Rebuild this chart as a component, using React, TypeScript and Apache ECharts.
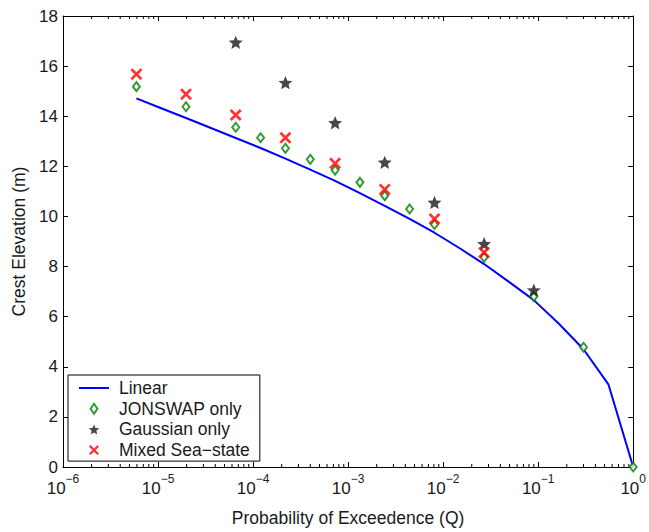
import React, { useEffect, useRef } from 'react';
import * as echarts from 'echarts';

// ---- data ----
const Q_LINEAR = [1, 0.548, 0.3, 0.1643, 0.09, 0.0493, 0.027, 0.0148, 0.00811, 0.00444, 0.00243, 0.001332, 0.00073, 0.0004, 0.000219, 0.00012, 0.0000657, 0.000036, 0.0000197, 0.0000108, 0.00000592];
const H_LINEAR = [0, 3.3, 4.7, 5.73, 6.66, 7.39, 8.1, 8.74, 9.35, 9.9, 10.42, 10.93, 11.42, 11.87, 12.31, 12.73, 13.13, 13.53, 13.93, 14.32, 14.71];

const Q_JONSWAP = [0.00000592, 0.0000197, 0.0000657, 0.00012, 0.000219, 0.0004, 0.00073, 0.001332, 0.00243, 0.00444, 0.00811, 0.027, 0.09, 0.3, 1];
const H_JONSWAP = [15.18, 14.38, 13.56, 13.14, 12.72, 12.28, 11.85, 11.36, 10.83, 10.3, 9.68, 8.37, 6.8, 4.78, 0];

const Q_GAUSSIAN = [0.0000657, 0.000219, 0.00073, 0.00243, 0.00811, 0.027, 0.09];
const H_GAUSSIAN = [16.95, 15.34, 13.74, 12.16, 10.56, 8.91, 7.06];

const Q_MIXED = [0.00000592, 0.0000197, 0.0000657, 0.000219, 0.00073, 0.00243, 0.00811, 0.027];
const H_MIXED = [15.68, 14.88, 14.05, 13.14, 12.12, 11.08, 9.9, 8.56];

const SERIES_NAMES = ['Linear', 'JONSWAP only', 'Gaussian only', 'Mixed Sea\u2212state'];
const X_TITLE = 'Probability of Exceedence (Q)';
const Y_TITLE = 'Crest Elevation (m)';
const X_MIN = 1e-6;
const X_MAX = 1;
const Y_MIN = 0;
const Y_MAX = 18;
const Y_STEP = 2;
const DECADE_EXPONENTS = [-6, -5, -4, -3, -2, -1];
const MINOR_MULTIPLIERS = [2, 3, 4, 5, 6, 7, 8, 9];

const FONT = "'Liberation Sans', Arial, Helvetica, sans-serif";
const TEXT_COLOR = '#1a1a1a';
const BLUE = '#0000ff';
const GREEN = '#008000';
const RED = '#ff0000';
const STAR_COLOR = '#1a1a1a';

const STAR_PATH =
  'path://M10,0 L12.645,6.359 L19.511,6.91 L14.28,11.39 L15.878,18.09 L10,14.5 L4.122,18.09 L5.72,11.39 L0.489,6.91 L7.355,6.359 Z';
const X_PATH =
  'path://M0,1.6 L1.6,0 L5,3.4 L8.4,0 L10,1.6 L6.6,5 L10,8.4 L8.4,10 L5,6.6 L1.6,10 L0,8.4 L3.4,5 Z';
const DIAMOND_PATH = 'path://M3,0 L6,4.4 L3,8.8 L0,4.4 Z';
const LINE_ICON_PATH = 'path://M0,0 L30,0 L30,2 L0,2 Z';

const zip = (a: number[], b: number[]) => a.map((v, i) => [v, b[i]]);

export default function App() {
  const ref = useRef<HTMLDivElement>(null);

  useEffect(() => {
    if (!ref.current) return;
    const chart = echarts.init(ref.current, undefined, { renderer: 'svg' });

    const minorTicks: number[][] = [];
    DECADE_EXPONENTS.forEach((e) => {
      MINOR_MULTIPLIERS.forEach((m) => minorTicks.push([m * Math.pow(10, e), Y_MIN]));
    });

    const expLabel = (v: number) => {
      const e = Math.round(Math.log10(v));
      return `{b|10}{s|${e < 0 ? '\u2212' : ''}${Math.abs(e)}}`;
    };

    const axisLine = { show: true, onZero: false, lineStyle: { color: '#000', width: 1 } };
    const tick = { show: true, inside: true, length: 5, lineStyle: { color: '#000' } };

    chart.setOption({
      animation: false,
      backgroundColor: '#fff',
      grid: { left: 63, right: 14, top: 16, bottom: 65, containLabel: false },
      legend: {
        orient: 'vertical',
        left: 68,
        top: 375,
        data: [
          { name: SERIES_NAMES[0], icon: LINE_ICON_PATH, itemStyle: { color: BLUE } },
          { name: SERIES_NAMES[1], icon: DIAMOND_PATH },
          { name: SERIES_NAMES[2], icon: STAR_PATH },
          { name: SERIES_NAMES[3], icon: X_PATH },
        ],
        itemWidth: 30,
        itemHeight: 10,
        itemGap: 2.7,
        padding: [4, 10, 2, 11],
        borderColor: '#000',
        borderWidth: 1,
        backgroundColor: '#fff',
        selectedMode: false,
        textStyle: { fontFamily: FONT, fontSize: 17.5, color: TEXT_COLOR, lineHeight: 18, padding: [0, 0, 0, 5] },
      },
      xAxis: [
        {
          type: 'log',
          logBase: 10,
          min: X_MIN,
          max: X_MAX,
          splitNumber: 6,
          position: 'bottom',
          name: X_TITLE,
          nameLocation: 'middle',
          nameGap: 42,
          nameTextStyle: { fontFamily: FONT, fontSize: 17.5, color: TEXT_COLOR },
          axisLine,
          axisTick: tick,
          splitLine: { show: false },
          axisLabel: {
            margin: 6,
            showMinLabel: true,
            showMaxLabel: true,
            formatter: expLabel,
            rich: {
              b: { fontFamily: FONT, fontSize: 17, lineHeight: 24, verticalAlign: 'bottom', color: TEXT_COLOR },
              s: { fontFamily: FONT, fontSize: 12, lineHeight: 12, verticalAlign: 'top', color: TEXT_COLOR },
            },
          },
        },
        {
          type: 'log',
          logBase: 10,
          min: X_MIN,
          max: X_MAX,
          splitNumber: 6,
          position: 'top',
          axisLine,
          axisTick: tick,
          axisLabel: { show: false },
          splitLine: { show: false },
        },
      ],
      yAxis: [
        {
          type: 'value',
          min: Y_MIN,
          max: Y_MAX,
          interval: Y_STEP,
          position: 'left',
          name: Y_TITLE,
          nameLocation: 'middle',
          nameGap: 35,
          nameTextStyle: { fontFamily: FONT, fontSize: 17.5, color: TEXT_COLOR },
          axisLine,
          axisTick: tick,
          splitLine: { show: false },
          axisLabel: { margin: 5, fontFamily: FONT, fontSize: 17, color: TEXT_COLOR },
        },
        {
          type: 'value',
          min: Y_MIN,
          max: Y_MAX,
          interval: Y_STEP,
          position: 'right',
          axisLine,
          axisTick: tick,
          splitLine: { show: false },
          axisLabel: { show: false },
        },
      ],
      series: [
        {
          name: SERIES_NAMES[0],
          type: 'line',
          data: zip(Q_LINEAR, H_LINEAR),
          showSymbol: false,
          symbol: 'none',
          lineStyle: { color: BLUE, width: 2 },
          itemStyle: { color: BLUE },
          z: 2,
        },
        {
          name: SERIES_NAMES[1],
          type: 'scatter',
          data: zip(Q_JONSWAP, H_JONSWAP),
          symbol: 'diamond',
          symbolSize: [7, 9],
          clip: false,
          itemStyle: { color: '#ffffff', borderColor: GREEN, borderWidth: 2 },
          z: 3,
        },
        {
          name: SERIES_NAMES[2],
          type: 'scatter',
          data: zip(Q_GAUSSIAN, H_GAUSSIAN),
          symbol: STAR_PATH,
          symbolSize: [14, 13.3],
          clip: false,
          itemStyle: { color: STAR_COLOR },
          z: 4,
        },
        {
          name: SERIES_NAMES[3],
          type: 'scatter',
          data: zip(Q_MIXED, H_MIXED),
          symbol: X_PATH,
          symbolSize: [12, 12],
          clip: false,
          itemStyle: { color: RED },
          z: 5,
        },
        {
          name: 'minorTicks',
          type: 'custom',
          silent: true,
          clip: false,
          data: minorTicks,
          renderItem: (params: any, api: any) => {
            const v = api.value(0);
            const b = api.coord([v, Y_MIN]);
            const t = api.coord([v, Y_MAX]);
            const style = { stroke: '#000', lineWidth: 1 };
            return {
              type: 'group',
              children: [
                { type: 'line', shape: { x1: b[0], y1: b[1], x2: b[0], y2: b[1] - 3 }, style },
                { type: 'line', shape: { x1: t[0], y1: t[1], x2: t[0], y2: t[1] + 3 }, style },
              ],
            };
          },
          z: 1,
        },
      ],
    });

    return () => chart.dispose();
  }, []);

  return (
    <div
      ref={ref}
      style={{ position: 'fixed', left: 0, top: 0, width: 649, height: 532, background: '#fff' }}
    />
  );
}
